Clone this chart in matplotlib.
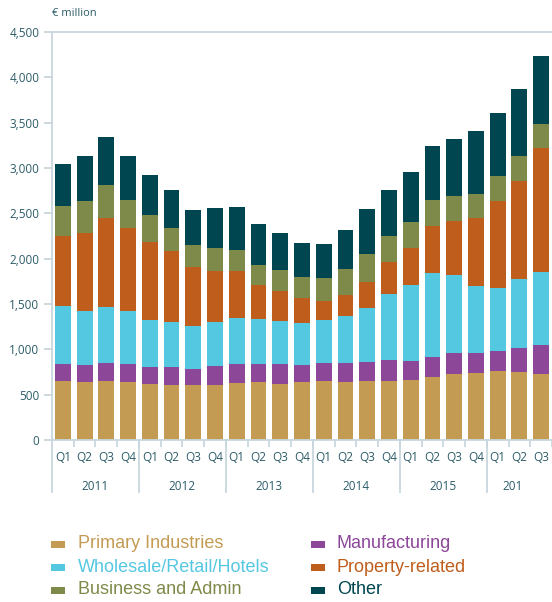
#!/usr/bin/env python3

import numpy as np
import matplotlib.pyplot as plt
from matplotlib.patches import Rectangle

quarters = ['Q1', 'Q2', 'Q3', 'Q4'] * 5 + ['Q1', 'Q2', 'Q3']
years = ['2011', '2012', '2013', '2014', '2015', '201']

primary = [650, 639, 650, 639, 617, 606, 606, 606, 628, 639, 617, 639,
           650, 639, 650, 650, 662, 695, 728, 739, 761, 750, 728]
manufacturing = [188, 188, 199, 199, 188, 199, 177, 210, 210, 199, 221, 188,
                 199, 210, 210, 232, 209, 220, 231, 220, 220, 264, 319]
wholesale = [639, 595, 617, 584, 518, 496, 474, 485, 507, 496, 474, 463,
             474, 518, 595, 728, 838, 926, 860, 739, 695, 761, 805]
property_rel = [772, 860, 985, 919, 860, 783, 650, 562, 518, 375, 331, 279,
                210, 232, 287, 352, 408, 518, 596, 750, 959, 1081, 1367]
business = [331, 353, 360, 305, 298, 253, 243, 254, 232, 220, 231, 228,
            253, 286, 309, 287, 287, 287, 275, 264, 276, 275, 265]
other = [463, 496, 530, 485, 441, 419, 386, 441, 474, 452, 408, 375,
         375, 430, 496, 507, 551, 595, 629, 695, 694, 739, 750]

series = [
    ('Primary Industries', primary, '#C39B53'),
    ('Manufacturing', manufacturing, '#8C4799'),
    ('Wholesale/Retail/Hotels', wholesale, '#54C7E1'),
    ('Property-related', property_rel, '#BF5E1C'),
    ('Business and Admin', business, '#7D8A49'),
    ('Other', other, '#004651'),
]

text_col = '#2C5C68'
line_col = '#C8D7DD'

W, H = 552, 602
fig = plt.figure(figsize=(W / 100, H / 100), dpi=100)
ax = fig.add_axes([52 / W, (H - 440) / H, 500 / W, 408 / H])

x = np.arange(len(quarters))
bottom = np.zeros(len(quarters))
for name, vals, col in series:
    ax.bar(x, vals, width=0.727, bottom=bottom, color=col, linewidth=0)
    bottom += np.array(vals)

ax.set_xlim(-0.5, 22.23)
ax.set_ylim(0, 4500)
ax.set_yticks(range(0, 4501, 500))
ax.set_yticklabels(['{:,}'.format(v) for v in range(0, 4501, 500)])

for s in ['right']:
    ax.spines[s].set_visible(False)
for s in ['left', 'top', 'bottom']:
    ax.spines[s].set_color(line_col)
    ax.spines[s].set_linewidth(1.3)

ax.tick_params(axis='y', colors=line_col, length=6, width=1.3, pad=3,
               labelcolor=text_col, labelsize=8.5)
ax.set_xticks(x + 0.5)
ax.set_xticklabels([])
ax.tick_params(axis='x', colors=line_col, length=5, width=1.3)
for lab in ax.get_yticklabels():
    lab.set_family('Open Sans')

# quarter labels
trans = ax.get_xaxis_transform()
for i, q in enumerate(quarters):
    ax.text(i, -0.043, q, transform=trans, ha='center', va='center',
            color=text_col, fontsize=8.5, family='Open Sans', clip_on=False)

# year separators and labels
for b in [-0.5, 3.5, 7.5, 11.5, 15.5, 19.5]:
    ax.plot([b, b], [0, -52 / 408], transform=trans, color=line_col,
            lw=1.3, clip_on=False)
for k, yr in enumerate(years):
    if yr == '201':
        ax.text(20.23, -0.115, yr, transform=trans, ha='left', va='center',
                color=text_col, fontsize=8.5, family='Open Sans', clip_on=False)
    else:
        ax.text(4 * k + 1.5, -0.115, yr, transform=trans, ha='center', va='center',
                color=text_col, fontsize=8.5, family='Open Sans', clip_on=False)

fig.text(52 / W, 1 - 14 / H, '\u20ac million', ha='left', va='center',
         color=text_col, fontsize=8, family='Open Sans')

# legend
order = [0, 2, 4, 1, 3, 5]
for n, idx in enumerate(order):
    name, vals, col = series[idx]
    c, r = divmod(n, 3)
    mx = 51 if c == 0 else 311
    tx = 78 if c == 0 else 337
    yc = 544 + 23 * r
    fig.add_artist(Rectangle((mx / W, 1 - (yc + 3.5) / H), 14 / W, 7 / H,
                             transform=fig.transFigure, color=col, lw=0))
    fig.text(tx / W, 1 - yc / H, name, ha='left', va='center', color=col,
             fontsize=13, family='Liberation Sans')

fig.savefig('out.png', dpi=100)
